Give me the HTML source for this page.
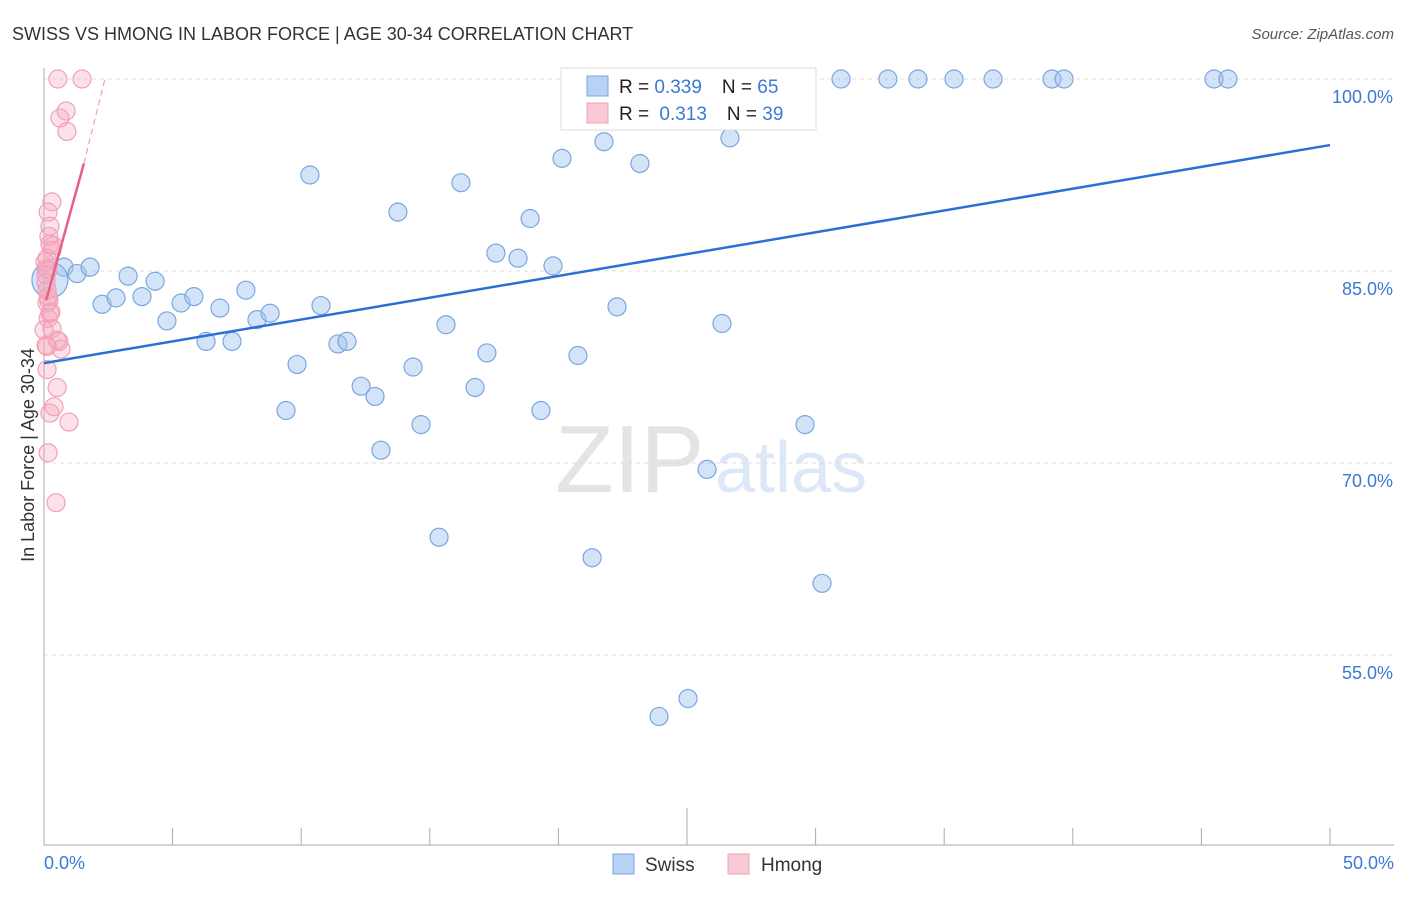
<!DOCTYPE html>
<html><head><meta charset="utf-8"><style>
body{margin:0;background:#fff;font-family:"Liberation Sans",sans-serif}
svg text{font-family:"Liberation Sans",sans-serif}
</style></head><body>
<svg id="c" width="1406" height="892" xmlns="http://www.w3.org/2000/svg">
<text x="12" y="40" font-size="18" fill="#333">SWISS VS HMONG IN LABOR FORCE | AGE 30-34 CORRELATION CHART</text>
<text x="1394" y="39" font-size="15" fill="#555" text-anchor="end" font-style="italic">Source: ZipAtlas.com</text>
<text x="555" y="492" font-size="96" fill="#e4e4e4" font-family="Liberation Serif">ZIP</text>
<text x="715" y="492" font-size="72" fill="#dce8f7">atlas</text>
<g id="grid"></g><g id="axes"></g><g id="pts"></g><g id="lines"></g>
<text transform="translate(34,455) rotate(-90)" font-size="18" fill="#333" text-anchor="middle">In Labor Force | Age 30-34</text>
<text x="44" y="869" font-size="18" fill="#3b78d8">0.0%</text>
<text x="1394" y="869" font-size="18" fill="#3b78d8" text-anchor="end">50.0%</text>
<g>
<rect x="561" y="68" width="255" height="62" fill="#fff" stroke="#ddd"/>
<rect x="587" y="76" width="21" height="20" fill="#b9d2f3" stroke="#7aa6e0"/>
<rect x="587" y="103" width="21" height="20" fill="#fbc8d6" stroke="#f0a0b8"/>
<text x="619" y="93" font-size="19" fill="#222">R = <tspan fill="#3b78d8">0.339</tspan><tspan dx="20">N = </tspan><tspan fill="#3b78d8">65</tspan></text>
<text x="619" y="120" font-size="19" fill="#222">R = <tspan fill="#3b78d8" dx="5">0.313</tspan><tspan dx="20">N = </tspan><tspan fill="#3b78d8">39</tspan></text>
</g>
<g>
<rect x="613" y="854" width="21" height="20" fill="#b9d2f3" stroke="#7aa6e0"/>
<text x="645" y="871" font-size="19" fill="#333">Swiss</text>
<rect x="728" y="854" width="21" height="20" fill="#fbc8d6" stroke="#f0a0b8"/>
<text x="761" y="871" font-size="19" fill="#333">Hmong</text>
</g>
</svg>
<script>
const yTicks=[100,85,70,55];
const yTickLabels=["100.0%","85.0%","70.0%","55.0%"];
const swissX=[0.78,1.28,1.79,3.27,4.32,2.26,2.80,3.81,5.33,5.83,4.78,6.84,6.30,7.31,7.85,8.28,8.79,10.34,10.77,9.84,9.41,11.43,11.78,12.33,12.87,13.10,13.76,14.35,14.66,15.36,15.63,16.21,16.76,17.22,17.57,18.43,18.90,19.32,19.79,20.14,20.76,21.31,21.77,22.28,22.71,23.17,23.91,24.42,25.04,25.23,25.78,26.36,26.67,29.59,30.25,30.99,32.81,33.98,35.38,36.90,39.19,39.66,45.49,46.03,0.23];
const swissY=[85.3,84.8,85.3,84.6,84.2,82.4,82.9,83.0,82.5,83.0,81.1,82.1,79.5,79.5,83.5,81.2,81.7,92.5,82.3,77.7,74.1,79.3,79.5,76.0,75.2,71.0,89.6,77.5,73.0,64.2,80.8,91.9,75.9,78.6,86.4,86.0,89.1,74.1,85.4,93.8,78.4,62.6,95.1,82.2,100,93.4,50.2,100,51.6,100,69.5,80.9,95.4,73.0,60.6,100,100,100,100,100,100,100,100,100,84.3];
const hmongX=[0.54,1.48,0.62,0.86,0.89,0.31,0.16,0.23,0.19,0.23,0.31,0.12,0.08,0.16,0.08,0.19,0.12,0.23,0.16,0.27,0.31,0.58,0.66,0.51,0.12,0.12,0.51,0.39,0.23,0.97,0.16,0.47,0.08,0.12,0.16,0.35,0.04,0.0,0.08];
const hmongY=[100,100,96.95,97.5,95.9,90.4,89.6,88.5,87.7,87.1,86.6,86.0,85.2,85.1,84.7,82.7,82.5,81.7,81.3,81.8,80.5,79.5,78.9,79.6,79.1,77.3,75.9,74.4,73.9,73.2,70.8,66.9,84.1,83.5,83.0,87.0,85.7,80.4,79.2];
const swissFit=[[0,77.8],[50,94.84]];
const hmongFit=[[0.08,82.7],[1.55,93.4]];
const hmongFitDash=[[1.55,93.4],[2.37,100]];
const X=v=>44+v*25.72, Y=v=>79+(100-v)*12.8;
const NS="http://www.w3.org/2000/svg";
function mk(t,a,p){const e=document.createElementNS(NS,t);for(const k in a)e.setAttribute(k,a[k]);document.getElementById(p).appendChild(e);return e;}
yTicks.forEach((t,i)=>{
 const g=mk('line',{x1:44,x2:1394,y1:Y(t),y2:Y(t),stroke:'#ddd','stroke-dasharray':'4 4'},'grid');
 
 
 const l=mk('text',{x:1393,y:Y(t)+24,'font-size':18,fill:'#3b78d8','text-anchor':'end'},'grid');
 l.textContent=yTickLabels[i];
 
 
});
const ax=mk('line',{x1:44,x2:44,y1:68,y2:845,stroke:'#aaa'},'axes');


const bx=mk('line',{x1:44,x2:1394,y1:845,y2:845,stroke:'#aaa'},'axes');


for(let v=0;v<=50;v+=5){
 const t=mk('line',{x1:X(v),x2:X(v),y1:v==25?808:828,y2:845,stroke:'#aaa'},'axes');
 
 
}
swissX.forEach((x,i)=>{
 const c=mk('circle',{cx:X(x),cy:Y(swissY[i]),r:i==swissX.length-1?18:9,fill:'rgba(160,195,240,0.45)',stroke:'#7aa6e0','stroke-width':1.2},'pts');
 
 
});
hmongX.forEach((x,i)=>{
 const c=mk('circle',{cx:X(x),cy:Y(hmongY[i]),r:9,fill:'rgba(245,170,190,0.35)',stroke:'#f0a0b8','stroke-width':1.2},'pts');
 
 
});
const s=mk('line',{x1:X(swissFit[0][0]),y1:Y(swissFit[0][1]),x2:X(swissFit[1][0]),y2:Y(swissFit[1][1]),stroke:'#2a6fd6','stroke-width':2.5},'lines');


const h=mk('line',{x1:X(hmongFit[0][0]),y1:Y(hmongFit[0][1]),x2:X(hmongFit[1][0]),y2:Y(hmongFit[1][1]),stroke:'#e8608a','stroke-width':2.5},'lines');


const hd=mk('line',{x1:X(hmongFitDash[0][0]),y1:Y(hmongFitDash[0][1]),x2:X(hmongFitDash[1][0]),y2:Y(hmongFitDash[1][1]),stroke:'#f0a0b8','stroke-width':1.2,'stroke-dasharray':'6 4'},'lines');


</script>
</body></html>
